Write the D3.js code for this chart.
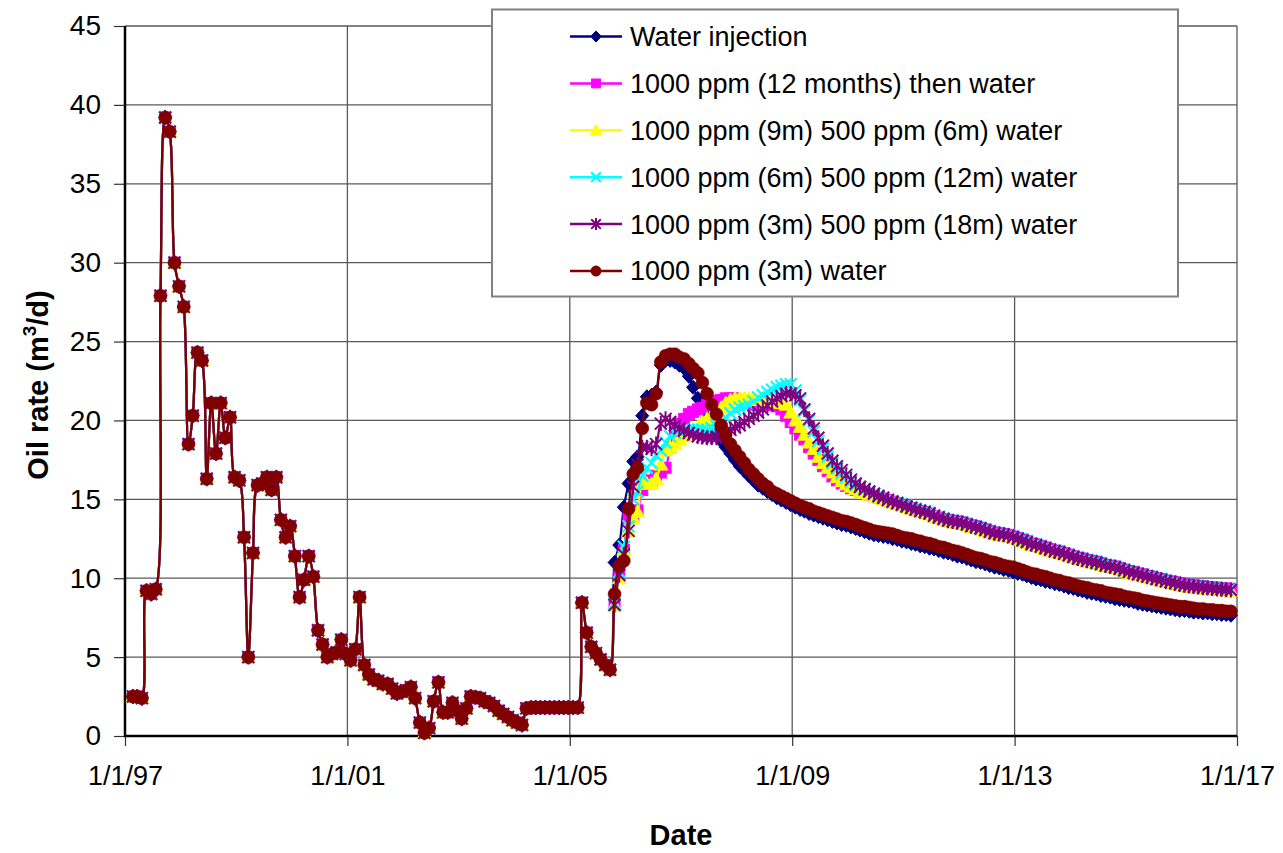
<!DOCTYPE html>
<html><head><meta charset="utf-8">
<script src="https://cdn.jsdelivr.net/npm/d3@7"></script>
<style>body{margin:0;background:#fff} text{font-family:"Liberation Sans",Arial,sans-serif;fill:#000}</style>
</head><body><svg id="chart" width="1283" height="853"></svg>
<script>
// ---------- data ----------
const seriesNames = ["Water injection","1000 ppm (12 months) then water","1000 ppm (9m) 500 ppm (6m) water","1000 ppm (6m) 500 ppm (12m) water","1000 ppm (3m) 500 ppm (18m) water","1000 ppm (3m) water"];
const seriesColors = ["#000080","#FF00FF","#FFFF00","#00FFFF","#800080","#800000"];
const seriesMarkers = ["diamond","square","triangle","cross","star","circle"];
const yTicks = [0,5,10,15,20,25,30,35,40,45];
const xTickYears = [1997,2001,2005,2009,2013,2017];
const xTickLabels = ["1/1/97","1/1/01","1/1/05","1/1/09","1/1/13","1/1/17"];
const historyStartMonth = 1;   // months after Jan 1997
const forecastStartMonth = 105;

// common production history (monthly)
const historyRate = [
2.5,2.5,2.4,9.2,9.0,9.3,27.9,39.2,38.3,30.0,
28.5,27.2,18.5,20.3,24.3,23.8,16.3,21.1,17.9,21.1,
18.9,20.2,16.4,16.2,12.6,5.0,11.6,15.9,16.0,16.4,
15.6,16.4,13.7,12.6,13.3,11.4,8.8,9.9,11.4,10.1,
6.7,5.8,5.0,5.2,5.3,6.1,5.2,4.8,5.5,8.8,
4.5,3.9,3.6,3.5,3.3,3.3,3.0,2.7,2.8,2.9,
3.1,2.4,0.85,0.2,0.5,2.2,3.4,1.5,1.5,2.1,
1.6,1.1,1.75,2.5,2.45,2.4,2.2,2.1,1.9,1.6,
1.4,1.2,1.0,0.85,0.7,1.75,1.8,1.8,1.8,1.8,
1.8,1.8,1.8,1.8,1.8,1.8,1.8,8.45,6.55,5.65,
5.25,4.85,4.5,4.2];

const waterInjection = [
11.0,12.1,14.5,16.0,17.4,17.7,20.3,21.5,21.6,21.8,
23.5,23.8,23.8,23.7,23.5,23.3,22.8,22.1,21.4,20.8,
20.2,19.6,19.1,18.7,18.3,17.9,17.5,17.1,16.8,16.5,
16.2,15.9,15.7,15.5,15.3,15.1,14.95,14.8,14.65,14.5,
14.35,14.25,14.1,14.0,13.9,13.8,13.7,13.6,13.5,13.4,
13.35,13.25,13.15,13.05,12.95,12.85,12.75,12.7,12.65,12.6,
12.5,12.45,12.35,12.3,12.2,12.15,12.05,12.0,11.9,11.85,
11.75,11.65,11.6,11.5,11.4,11.35,11.25,11.15,11.05,11.0,
10.9,10.8,10.7,10.65,10.55,10.5,10.4,10.3,10.25,10.15,
10.05,9.95,9.9,9.8,9.75,9.65,9.6,9.5,9.4,9.35,
9.25,9.2,9.1,9.05,9.0,8.9,8.85,8.8,8.7,8.65,
8.6,8.55,8.5,8.4,8.35,8.3,8.25,8.2,8.15,8.1,
8.05,8.0,7.95,7.95,7.9,7.85,7.85,7.8,7.8,7.75,
7.75,7.7,7.7,7.65];

const ppm1000_12m = [
8.4,10.2,11.8,13.8,14.0,14.3,15.6,16.0,16.2,16.5,
16.7,17.0,18.3,19.3,19.8,20.1,20.4,20.55,20.7,20.8,
21.0,21.15,21.25,21.3,21.4,21.4,21.4,21.3,21.2,21.1,
21.0,21.0,21.0,21.0,21.0,20.9,20.7,20.3,19.9,19.5,
19.1,18.8,18.3,17.9,17.5,17.1,16.8,16.45,16.2,16.0,
15.85,15.7,15.6,15.5,15.4,15.3,15.2,15.1,15.05,14.95,
14.85,14.75,14.65,14.55,14.45,14.35,14.25,14.2,14.1,13.95,
13.85,13.75,13.7,13.65,13.6,13.55,13.45,13.35,13.3,13.2,
13.1,13.0,12.9,12.85,12.8,12.75,12.65,12.55,12.45,12.35,
12.2,12.15,12.05,11.95,11.85,11.75,11.7,11.6,11.5,11.4,
11.3,11.25,11.15,11.1,11.05,10.95,10.85,10.8,10.75,10.65,
10.55,10.45,10.4,10.3,10.25,10.15,10.1,10.0,9.95,9.85,
9.8,9.75,9.7,9.65,9.6,9.55,9.52,9.5,9.45,9.42,
9.4,9.37,9.35,9.33];

const ppm1000_9m_500_6m = [
8.3,10.0,11.8,13.0,13.8,14.2,16.0,16.0,16.0,16.3,
17.2,18.1,18.3,18.5,18.8,19.0,19.2,19.45,19.6,19.9,
20.1,20.3,20.55,20.8,21.1,21.3,21.4,21.4,21.4,21.4,
21.35,21.3,21.3,21.25,21.2,21.15,21.1,21.0,20.5,20.0,
19.6,19.1,18.6,18.2,17.7,17.3,17.0,16.7,16.4,16.15,
15.95,15.8,15.65,15.5,15.4,15.3,15.2,15.1,15.0,14.9,
14.8,14.7,14.6,14.5,14.4,14.3,14.2,14.15,14.05,13.9,
13.8,13.7,13.6,13.55,13.5,13.45,13.35,13.25,13.2,13.1,
13.0,12.9,12.8,12.75,12.7,12.65,12.55,12.45,12.35,12.25,
12.1,12.05,11.95,11.85,11.75,11.65,11.6,11.5,11.4,11.3,
11.2,11.15,11.05,11.0,10.93,10.85,10.75,10.7,10.65,10.55,
10.45,10.35,10.3,10.2,10.15,10.05,10.0,9.9,9.85,9.75,
9.7,9.65,9.55,9.5,9.45,9.42,9.4,9.35,9.33,9.3,
9.27,9.25,9.22,9.2];

const ppm1000_6m_500_12m = [
8.4,10.4,12.0,13.3,15.0,15.5,16.5,17.0,17.3,17.8,
18.1,18.6,19.0,19.2,19.3,19.4,19.4,19.4,19.4,19.4,
19.4,19.5,19.7,19.9,20.2,20.45,20.7,20.8,20.9,21.0,
21.2,21.45,21.6,21.8,21.95,22.1,22.2,22.3,22.3,21.9,
21.3,20.6,20.0,19.3,18.7,18.2,17.7,17.3,16.95,16.65,
16.4,16.1,15.9,15.75,15.6,15.5,15.35,15.25,15.1,15.0,
14.9,14.8,14.7,14.6,14.5,14.4,14.3,14.25,14.15,14.0,
13.9,13.8,13.7,13.65,13.6,13.55,13.45,13.35,13.3,13.2,
13.1,13.0,12.9,12.85,12.8,12.75,12.65,12.55,12.45,12.35,
12.2,12.15,12.05,11.95,11.85,11.75,11.7,11.6,11.5,11.4,
11.3,11.25,11.15,11.1,11.05,10.95,10.85,10.8,10.75,10.65,
10.55,10.45,10.4,10.3,10.25,10.15,10.1,10.0,9.95,9.85,
9.8,9.75,9.65,9.6,9.55,9.52,9.5,9.45,9.43,9.4,
9.37,9.35,9.32,9.3];

const ppm1000_3m_500_18m = [
8.3,10.2,11.5,13.0,15.8,17.2,18.3,18.3,18.2,18.5,
19.8,20.1,19.9,19.7,19.5,19.35,19.2,19.1,19.0,18.95,
18.9,18.9,18.9,19.0,19.2,19.4,19.55,19.7,19.9,20.1,
20.3,20.5,20.7,20.95,21.2,21.4,21.55,21.7,21.7,21.6,
21.4,20.7,20.1,19.5,18.9,18.4,17.9,17.45,17.1,16.85,
16.55,16.25,16.0,15.8,15.65,15.5,15.35,15.2,15.1,14.95,
14.85,14.75,14.65,14.55,14.45,14.35,14.25,14.2,14.1,13.95,
13.85,13.75,13.65,13.6,13.55,13.5,13.4,13.3,13.25,13.15,
13.05,12.95,12.85,12.8,12.75,12.7,12.6,12.5,12.4,12.3,
12.15,12.1,12.0,11.9,11.8,11.7,11.65,11.55,11.45,11.35,
11.25,11.2,11.1,11.05,10.98,10.9,10.8,10.75,10.7,10.6,
10.5,10.4,10.35,10.25,10.2,10.1,10.05,9.95,9.9,9.8,
9.75,9.7,9.6,9.55,9.5,9.47,9.45,9.4,9.38,9.35,
9.32,9.3,9.27,9.25];

const ppm1000_3m_water = [
9.0,10.8,11.1,14.4,16.6,17.0,19.5,21.1,21.0,21.7,
23.7,24.1,24.2,24.2,24.0,23.9,23.6,23.3,23.0,22.4,
21.7,21.0,20.4,19.7,19.1,18.5,18.1,17.7,17.3,16.9,
16.6,16.3,16.0,15.8,15.5,15.35,15.2,15.05,14.9,14.75,
14.6,14.5,14.4,14.25,14.15,14.05,13.95,13.85,13.75,13.65,
13.6,13.5,13.4,13.3,13.2,13.1,13.0,12.95,12.9,12.85,
12.8,12.7,12.6,12.55,12.5,12.4,12.35,12.25,12.2,12.1,
12.0,11.95,11.85,11.75,11.7,11.6,11.5,11.4,11.3,11.25,
11.15,11.05,11.0,10.9,10.8,10.75,10.7,10.6,10.5,10.4,
10.3,10.25,10.15,10.1,10.0,9.9,9.85,9.75,9.7,9.6,
9.5,9.45,9.4,9.3,9.25,9.2,9.1,9.05,9.0,8.95,
8.85,8.8,8.75,8.7,8.6,8.55,8.5,8.45,8.4,8.35,
8.3,8.25,8.2,8.2,8.15,8.1,8.05,8.05,8.0,8.0,
7.95,7.95,7.9,7.9];

const forecastValues = [waterInjection, ppm1000_12m, ppm1000_9m_500_6m, ppm1000_6m_500_12m, ppm1000_3m_500_18m, ppm1000_3m_water];

// ---------- layout ----------
const plot = {left:125, right:1237, top:26, bottom:736};
const FONT = 27;
const TITLE_FONT = 29;

const svg = d3.select("#chart");
const x = d3.scaleTime().domain([new Date(1997,0,1), new Date(2017,0,1)]).range([plot.left, plot.right]);
const y = d3.scaleLinear().domain([0,45]).range([plot.bottom, plot.top]);

const monthDate = k => new Date(1997, k, 22);

const series = forecastValues.map((fc, s) => ({
  name: seriesNames[s], color: seriesColors[s], marker: seriesMarkers[s],
  points: historyRate.map((v,i)=>({date: monthDate(historyStartMonth+i), value: v}))
    .concat(fc.map((v,i)=>({date: monthDate(forecastStartMonth+i), value: v})))
}));

// gridlines
const gridColor = "#5a5a5a";
const grid = svg.append("g");
grid.selectAll("line.h").data(yTicks.filter(t=>t>0)).join("line")
  .attr("x1", plot.left).attr("x2", plot.right)
  .attr("y1", d=>y(d)).attr("y2", d=>y(d))
  .attr("stroke", gridColor).attr("stroke-width", 1.3);
const xTickDates = xTickYears.map(yr=>new Date(yr,0,1));
grid.selectAll("line.v").data(xTickDates.slice(1)).join("line")
  .attr("x1", d=>x(d)).attr("x2", d=>x(d))
  .attr("y1", plot.top).attr("y2", plot.bottom)
  .attr("stroke", gridColor).attr("stroke-width", 1.3);

// axes via d3 axis generators
const yAxis = d3.axisLeft(y).tickValues(yTicks).tickSize(11).tickPadding(13).tickFormat(d3.format("d"));
const gy = svg.append("g").attr("transform", `translate(${plot.left},0)`).call(yAxis);
gy.select(".domain").remove();
gy.selectAll(".tick line").attr("stroke","#333").attr("stroke-width",1.2);
gy.selectAll(".tick text").attr("font-size", 28).attr("font-family","Liberation Sans, Arial, sans-serif").attr("fill","#000");

const xAxis = d3.axisBottom(x).tickValues(xTickDates).tickSize(10).tickPadding(20)
  .tickFormat((d,i)=>xTickLabels[i]);
const gx = svg.append("g").attr("transform", `translate(0,${plot.bottom})`).call(xAxis);
gx.select(".domain").remove();
gx.selectAll(".tick line").attr("stroke","#333").attr("stroke-width",1.2);
gx.selectAll(".tick text").attr("font-size", FONT).attr("font-family","Liberation Sans, Arial, sans-serif").attr("fill","#000");

// axis lines
svg.append("line").attr("x1",plot.left).attr("x2",plot.left).attr("y1",plot.top).attr("y2",plot.bottom+1)
  .attr("stroke","#000").attr("stroke-width",2.5);
svg.append("line").attr("x1",plot.left-1).attr("x2",plot.right).attr("y1",plot.bottom).attr("y2",plot.bottom)
  .attr("stroke","#000").attr("stroke-width",2.5);

// axis titles
svg.append("text").attr("x",(plot.left+plot.right)/2).attr("y",845)
  .attr("text-anchor","middle").attr("font-size",TITLE_FONT).attr("font-weight","bold").text("Date");
const yt = svg.append("text").attr("transform","translate(48,385) rotate(-90)")
  .attr("text-anchor","middle").attr("font-size",TITLE_FONT).attr("font-weight","bold");
yt.append("tspan").text("Oil rate (m");
yt.append("tspan").attr("font-size",19).attr("dy",-12).text("3");
yt.append("tspan").attr("dy",12).text("/d)");

// markers
function drawMarker(g, type, color, s) {
  s = s || 1;
  if (type === "diamond") g.append("path").attr("d",`M0,${-7*s}L${6.5*s},0L0,${7*s}L${-6.5*s},0Z`).attr("fill",color).attr("stroke",color).attr("stroke-width",1);
  else if (type === "square") g.append("rect").attr("x",-5.5*s).attr("y",-5.5*s).attr("width",11*s).attr("height",11*s).attr("fill",color).attr("stroke",color).attr("stroke-width",1);
  else if (type === "triangle") g.append("path").attr("d",`M0,${-7*s}L${7*s},${5.5*s}L${-7*s},${5.5*s}Z`).attr("fill",color).attr("stroke",color).attr("stroke-width",1);
  else if (type === "cross") g.append("path").attr("d",`M${-6*s},${-6*s}L${6*s},${6*s}M${-6*s},${6*s}L${6*s},${-6*s}`).attr("stroke",color).attr("stroke-width",2.2).attr("fill","none");
  else if (type === "star") g.append("path").attr("d",`M${-6*s},${-6*s}L${6*s},${6*s}M${-6*s},${6*s}L${6*s},${-6*s}M0,${-7.5*s}L0,${7.5*s}`).attr("stroke",color).attr("stroke-width",2).attr("fill","none");
  else if (type === "circle") g.append("circle").attr("r",6.5*s).attr("fill",color).attr("stroke",color).attr("stroke-width",0.5);
}

const line = d3.line().x(d=>x(d.date)).y(d=>y(d.value)).curve(d3.curveCatmullRom.alpha(0.5));
const plotG = svg.append("g");
series.forEach(s => {
  const g = plotG.append("g");
  g.append("path").datum(s.points).attr("d", line).attr("fill","none").attr("stroke", s.color).attr("stroke-width", 2.2);
  g.selectAll("g.m").data(s.points).join("g").attr("class","m")
    .attr("transform", d=>`translate(${x(d.date)},${y(d.value)})`)
    .each(function(){ drawMarker(d3.select(this), s.marker, s.color, 1); });
});

// legend
const legend = svg.append("g");
legend.append("rect").attr("x",492).attr("y",9.5).attr("width",686).attr("height",287)
  .attr("fill","#fff").attr("stroke","#808080").attr("stroke-width",2);
const legendRowY = d3.scaleLinear().domain([0,5]).range([36.5,271]);
series.forEach((s,i)=>{
  const ly = legendRowY(i);
  const g = legend.append("g").attr("transform",`translate(0,${ly})`);
  g.append("line").attr("x1",570).attr("x2",622).attr("y1",0).attr("y2",0).attr("stroke",s.color).attr("stroke-width",2.5);
  drawMarker(g.append("g").attr("transform","translate(596,0)"), s.marker, s.color, 0.8);
  g.append("text").attr("x",630).attr("y",0).attr("dy","0.35em").attr("font-size",FONT).text(s.name);
});
</script>
</body></html>
